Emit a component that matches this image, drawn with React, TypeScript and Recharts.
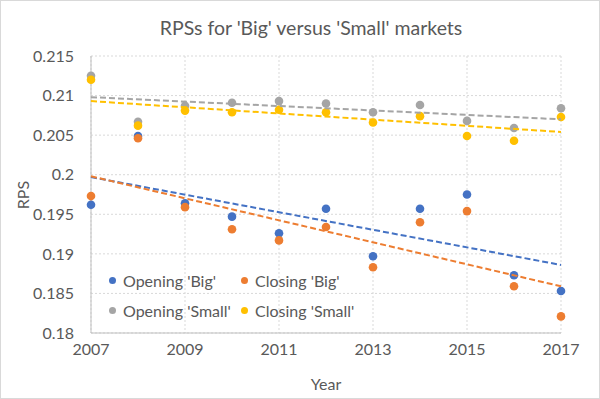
import React from "react";
import {
  ScatterChart,
  Scatter,
  XAxis,
  YAxis,
  CartesianGrid,
  ReferenceLine,
  Legend,
} from "recharts";

// years on the x axis
const years = [2007, 2008, 2009, 2010, 2011, 2012, 2013, 2014, 2015, 2016, 2017];

// RPS values
const openingBig = [0.1962, 0.2049, 0.1964, 0.1947, 0.1926, 0.1957, 0.1897, 0.1957, 0.1975, 0.1873, 0.1853];
const closingBig = [0.1973, 0.2046, 0.1959, 0.1931, 0.1917, 0.1934, 0.1883, 0.194, 0.1954, 0.1859, 0.1821];
const openingSmall = [0.2125, 0.2067, 0.2087, 0.2091, 0.2093, 0.209, 0.2079, 0.2088, 0.2068, 0.2059, 0.2084];
const closingSmall = [0.212, 0.2062, 0.2081, 0.2079, 0.2082, 0.2079, 0.2066, 0.2074, 0.2049, 0.2043, 0.2073];

// linear trendline values at 2007 and 2017
const trendYears = [2007, 2017];
const trendOpeningBig = [0.1997, 0.1886];
const trendClosingBig = [0.1998, 0.1859];
const trendOpeningSmall = [0.2098, 0.207];
const trendClosingSmall = [0.2093, 0.2054];

const xTicks = [2007, 2009, 2011, 2013, 2015, 2017];
const yTicks = [0.18, 0.185, 0.19, 0.195, 0.2, 0.205, 0.21, 0.215];

const series = [
  { name: "Opening 'Big'", color: "#4472C4", values: openingBig, trend: trendOpeningBig },
  { name: "Closing 'Big'", color: "#ED7D31", values: closingBig, trend: trendClosingBig },
  { name: "Opening 'Small'", color: "#A5A5A5", values: openingSmall, trend: trendOpeningSmall },
  { name: "Closing 'Small'", color: "#FFC000", values: closingSmall, trend: trendClosingSmall },
];

const FONT = "Lato, 'Open Sans', sans-serif";
const TEXT = "#595959";

function Dot(props: any) {
  return <circle cx={props.cx} cy={props.cy} r={4.3} fill={props.fill} />;
}

function LegendBox() {
  return (
    <div style={{ display: "grid", gridTemplateColumns: "132px 140px" }}>
      {series.map((s) => (
        <div
          key={s.name}
          style={{ display: "flex", alignItems: "center", height: 30, color: TEXT, fontSize: 16, whiteSpace: "nowrap" }}
        >
          <span
            style={{ width: 7, height: 7, borderRadius: "50%", background: s.color, marginRight: 7, flex: "none" }}
          />
          {s.name}
        </div>
      ))}
    </div>
  );
}

export default function App() {
  return (
    <div
      style={{
        position: "absolute",
        left: 0,
        top: 0,
        width: 600,
        height: 399,
        background: "#fff",
        fontFamily: FONT,
      }}
    >
      <div
        style={{
          position: "absolute",
          left: 111,
          top: 16,
          width: 400,
          textAlign: "center",
          fontSize: 19.5,
          lineHeight: "24px",
          color: TEXT,
        }}
      >
        RPSs for 'Big' versus 'Small' markets
      </div>
      <ScatterChart width={600} height={399} margin={{ top: 56, right: 39, left: 31, bottom: 4 }}>
        <CartesianGrid stroke="#d9d9d9" strokeDasharray="2 2" />
        <XAxis
          type="number"
          dataKey="x"
          domain={[2007, 2017]}
          ticks={xTicks}
          height={62}
          tickSize={0}
          tickMargin={11}
          axisLine={{ stroke: "#bfbfbf" }}
          tick={{ fill: TEXT, fontSize: 16 }}
          label={{ value: "Year", position: "insideBottom", offset: 5, fill: TEXT, fontSize: 16 }}
        />
        <YAxis
          type="number"
          dataKey="y"
          domain={[0.18, 0.215]}
          ticks={yTicks}
          width={60}
          tickSize={0}
          tickMargin={17}
          axisLine={{ stroke: "#bfbfbf" }}
          tick={{ fill: TEXT, fontSize: 16 }}
          tickFormatter={(v: number) => String(parseFloat(v.toFixed(3)))}
          label={{
            content: () => (
              <text
                x={22}
                y={195}
                transform="rotate(-90 22 195)"
                textAnchor="middle"
                dominantBaseline="central"
                fill={TEXT}
                fontSize={16}
              >
                RPS
              </text>
            ),
          }}
        />
        <Legend
          layout="horizontal"
          verticalAlign="middle"
          align="center"
          content={<LegendBox />}
          wrapperStyle={{ left: 109, top: 265, width: 290 }}
        />
        {series.map((s) => (
          <Scatter
            key={s.name}
            name={s.name}
            data={years.map((yr, i) => ({ x: yr, y: s.values[i] }))}
            fill={s.color}
            shape={<Dot />}
            isAnimationActive={false}
          />
        ))}
        {series.map((s) => (
          <ReferenceLine
            key={"trend-" + s.name}
            segment={[
              { x: trendYears[0], y: s.trend[0] },
              { x: trendYears[1], y: s.trend[1] },
            ]}
            stroke={s.color}
            strokeWidth={2}
            strokeDasharray="6 3"
            zIndex={700}
          />
        ))}
      </ScatterChart>
      <div
        style={{
          position: "absolute",
          inset: 0,
          border: "1px solid #d9d9d9",
          pointerEvents: "none",
        }}
      />
    </div>
  );
}
